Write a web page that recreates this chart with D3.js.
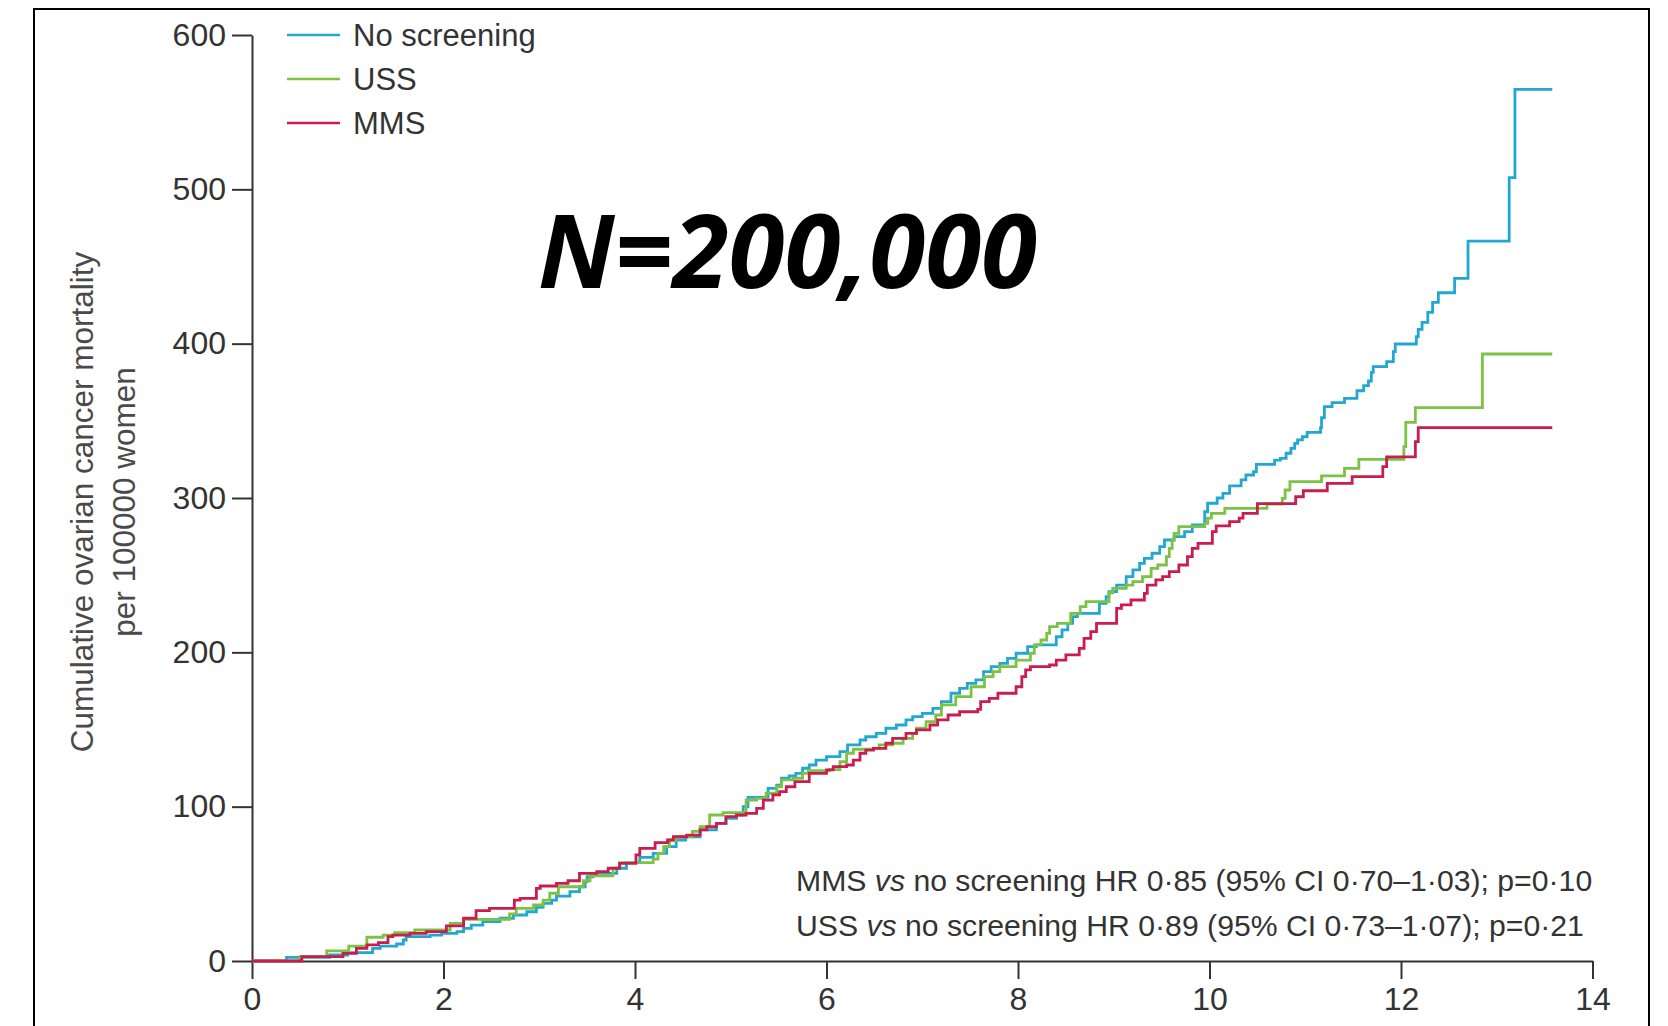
<!DOCTYPE html>
<html>
<head>
<meta charset="utf-8">
<script src="https://cdn.jsdelivr.net/npm/d3@7/dist/d3.min.js"></script>
<style>
  body { margin: 0; background: #fff; }
  text { font-family: "Liberation Sans", Arial, sans-serif; }
</style>
</head>
<body>
<div id="my_dataviz"></div>
<script>
// years since randomisation, cumulative deaths per 100000 (step points)
var noScreening = [
  [0,0],[0.36,2.4],[0.81,3.9],[1.0,5.4],[1.26,8.2],[1.34,9.7],[1.51,11],[1.58,13.6],[1.61,15.8],
  [1.86,16.8],[1.98,17.9],[2.14,19],[2.21,21.2],[2.29,23.3],[2.41,25.5],[2.59,27.7],[2.73,29.8],
  [2.87,31.9],[2.97,34.8],[3.04,37.4],[3.13,39.5],[3.18,42.1],[3.32,44.9],[3.42,48.1],[3.48,51.4],
  [3.5,54.6],[3.56,56.8],[3.81,60.1],[3.91,63.7],[4.05,67.2],[4.19,69.8],[4.33,74.1],[4.43,78.4],
  [4.53,80.5],[4.68,84.9],[4.85,89.2],[4.95,92.5],[5.06,94.6],[5.13,100],[5.18,106],[5.39,111.9],
  [5.48,114],[5.53,118.4],[5.61,119.9],[5.68,121.6],[5.75,124.9],[5.82,127],[5.89,130.2],[6.0,132.4],
  [6.14,135.6],[6.22,140],[6.35,143.2],[6.41,145.3],[6.52,147.5],[6.62,150.8],[6.73,152.9],
  [6.83,156.2],[6.9,158.3],[7.0,160.5],[7.11,163.7],[7.2,168],[7.3,173.5],[7.39,176.7],[7.47,179.9],
  [7.56,182.1],[7.64,187.5],[7.72,190.7],[7.81,192.9],[7.89,196.1],[7.98,199.4],[8.1,203.7],
  [8.19,204.8],[8.4,210.1],[8.46,214.5],[8.52,218.8],[8.57,223.1],[8.62,225.3],[8.85,231.7],
  [8.92,236],[8.95,239.3],[9.03,243.6],[9.13,249],[9.2,253.4],[9.27,257.7],[9.32,260.9],[9.4,264.2],
  [9.48,268.5],[9.53,272.8],[9.63,275],[9.74,278.2],[9.82,282.5],[9.95,291.1],[9.98,296.6],
  [10.08,300],[10.14,303],[10.21,307.8],[10.33,311.7],[10.38,314.9],[10.46,317],[10.49,321.8],
  [10.68,324.6],[10.74,325.7],[10.8,329],[10.85,332.2],[10.89,335.4],[10.92,337.6],[10.97,339.7],
  [11.02,342.5],[11.16,345.6],[11.17,352],[11.2,359.2],[11.28,361.8],[11.41,364.6],[11.54,369.5],
  [11.61,372.8],[11.66,375.8],[11.69,381.4],[11.71,385.1],[11.85,388.3],[11.92,394.8],[11.94,399.8],
  [12.16,404.5],[12.18,409.3],[12.22,413.8],[12.28,420.3],[12.33,426.8],[12.39,433],[12.56,442.3],
  [12.7,466.5],[13.13,507.6],[13.19,564.8],[13.58,564.8]
];
var uss = [
  [0,0],[0.5,2.8],[0.78,6.5],[1.01,9.7],[1.2,15.4],[1.37,16.8],[1.49,18.4],[1.7,20.1],[2.07,24.4],
  [2.21,27],[2.69,30.5],[2.76,34.1],[2.94,36.3],[3.04,39.5],[3.11,43.9],[3.2,48.1],[3.46,52],
  [3.53,55.1],[3.77,60.1],[3.84,63.7],[4.19,66],[4.24,69.8],[4.3,74.1],[4.36,78.4],[4.43,80.5],
  [4.6,84],[4.68,87],[4.78,94.6],[4.92,96.1],[5.16,104.3],[5.27,105.4],[5.37,108.7],[5.48,112.9],
  [5.53,117.3],[5.65,118.4],[5.75,121.6],[5.81,123.3],[6.03,124],[6.14,129.1],[6.21,134.6],
  [6.28,137.2],[6.49,137.8],[6.55,140],[6.69,141.1],[6.8,144.3],[6.9,147.5],[6.94,150.8],
  [7.04,155.1],[7.14,159.4],[7.2,165.9],[7.35,171.3],[7.51,177.7],[7.65,184.2],[7.74,187.5],
  [7.81,190.7],[7.98,195],[8.13,199.4],[8.17,204.8],[8.24,208],[8.3,212.3],[8.33,216.6],[8.41,218.8],
  [8.55,225.3],[8.65,229.6],[8.71,232.8],[8.95,238.6],[8.99,241.5],[9.13,243.6],[9.2,245.8],
  [9.3,249],[9.39,254.4],[9.46,256.6],[9.55,262],[9.58,267.4],[9.61,272.8],[9.63,277.1],[9.68,281.4],
  [9.95,283.6],[9.98,286.9],[10.02,290.1],[10.16,293.3],[10.6,296.1],[10.76,299.8],[10.79,305.2],
  [10.84,310.6],[11.17,314.3],[11.41,319.2],[11.56,325],[12.03,333.3],[12.05,349],[12.15,358.5],
  [12.85,393.3],[13.58,393.3]
];
var mms = [
  [0,0],[0.52,2.8],[0.95,5],[1.09,8.2],[1.2,10.4],[1.32,11.9],[1.42,15.8],[1.47,16.8],[1.65,17.9],
  [1.82,19],[2.03,22.7],[2.21,27.7],[2.34,32.6],[2.48,34.1],[2.74,39.5],[2.8,40.6],[2.97,47.1],
  [3.01,48.6],[3.18,50.3],[3.3,52],[3.42,56.8],[3.6,57.9],[3.72,60.1],[3.84,63.3],[4.01,68.7],
  [4.05,73],[4.21,76.7],[4.34,78.4],[4.4,80.5],[4.54,81.6],[4.68,84.9],[4.75,87],[4.85,89.2],
  [4.95,93.5],[5.06,94.6],[5.16,95.7],[5.27,98.9],[5.34,104.3],[5.44,107.6],[5.51,109.7],
  [5.58,112.9],[5.67,116.2],[5.82,121.6],[6.0,123.8],[6.07,125.9],[6.21,127],[6.28,130.2],
  [6.35,134.6],[6.41,136.7],[6.49,137.8],[6.62,141.1],[6.69,144.3],[6.83,147.5],[6.94,149.7],
  [7.08,152.9],[7.16,156.2],[7.27,159.4],[7.39,161.5],[7.58,163],[7.61,168],[7.7,170.2],[7.79,173.5],
  [7.98,177.7],[8.04,184.2],[8.08,188.6],[8.13,190.7],[8.33,191.8],[8.4,195],[8.5,198.3],[8.64,202.6],
  [8.69,209.1],[8.76,213.4],[8.82,218.8],[9.03,228.5],[9.08,230.7],[9.18,233.9],[9.32,238.2],
  [9.35,243.6],[9.44,246.9],[9.51,249],[9.58,252.3],[9.68,256.6],[9.77,262],[9.82,267.4],[9.88,270.6],
  [10.03,278.2],[10.07,281.9],[10.21,284.7],[10.31,286.9],[10.35,290.1],[10.5,296.3],[10.9,300.8],
  [10.98,304.7],[11.23,309.5],[11.49,313.8],[11.81,320.3],[11.85,326.6],[12.15,336.5],[12.18,345.6],
  [13.58,345.6]
];

var seriesNames = ["No screening", "USS", "MMS"];
var xTicks = [0, 2, 4, 6, 8, 10, 12, 14];
var yTicks = [0, 100, 200, 300, 400, 500, 600];
var hrLines = [
  ["MMS ", "vs", " no screening HR 0\u00b785 (95% CI 0\u00b770\u20131\u00b703); p=0\u00b710"],
  ["USS ", "vs", " no screening HR 0\u00b789 (95% CI 0\u00b773\u20131\u00b707); p=0\u00b721"]
];

var colors = ["#22a8d0", "#7cc243", "#c91d4e"];

var W = 1668, H = 1026;
var margin = { top: 35, right: 75.5, bottom: 65, left: 252 },
    width = W - margin.left - margin.right,
    height = H - margin.top - margin.bottom;

var svg0 = d3.select("#my_dataviz")
    .append("svg")
    .attr("width", W)
    .attr("height", H);

// outer frame
svg0.append("rect")
    .attr("x", 34).attr("y", 9)
    .attr("width", 1615).attr("height", 1040)
    .attr("fill", "none")
    .attr("stroke", "#000")
    .attr("stroke-width", 2);

var svg = svg0.append("g")
    .attr("transform", "translate(" + margin.left + "," + margin.top + ")");

var x = d3.scaleLinear().domain([0, 14]).range([0, width]);
var y = d3.scaleLinear().domain([0, 600]).range([height, 0]);

// X axis
var gx = svg.append("g")
    .attr("transform", "translate(0," + height + ")")
    .call(d3.axisBottom(x).tickValues(xTicks).tickSize(18).tickSizeOuter(0).tickPadding(8));

// Y axis
var gy = svg.append("g")
    .call(d3.axisLeft(y).tickValues(yTicks).tickSize(20).tickSizeOuter(0).tickPadding(6));

[gx, gy].forEach(function (g) {
  g.select(".domain").attr("stroke", "#333").attr("stroke-width", 2);
  g.selectAll(".tick line").attr("stroke", "#333").attr("stroke-width", 2);
  g.selectAll(".tick text")
    .attr("fill", "#333")
    .style("font-family", '"Liberation Sans", Arial, sans-serif')
    .style("font-size", "32px");
});

// y axis title
var ty = svg0.append("text")
    .attr("transform", "translate(93,502) rotate(-90)")
    .attr("text-anchor", "middle")
    .attr("fill", "#4a4a4a")
    .style("font-size", "31.5px");
ty.append("tspan").attr("x", 0).attr("y", 0).text("Cumulative ovarian cancer mortality");
ty.append("tspan").attr("x", 0).attr("y", 42).text("per 100000 women");

// curves
var line = d3.line()
    .curve(d3.curveStepAfter)
    .x(function (d) { return x(d[0]); })
    .y(function (d) { return y(d[1]); });

[noScreening, uss, mms].forEach(function (s, i) {
  svg.append("path")
      .datum(s)
      .attr("fill", "none")
      .attr("stroke", colors[i])
      .attr("stroke-width", 2.8)
      .attr("d", line);
});

// legend
var legend = svg0.append("g");
seriesNames.forEach(function (name, i) {
  var ly = 35 + i * 44;
  legend.append("line")
      .attr("x1", 287).attr("x2", 340)
      .attr("y1", ly).attr("y2", ly)
      .attr("stroke", colors[i])
      .attr("stroke-width", 2.6);
  legend.append("text")
      .attr("x", 353).attr("y", ly + 11)
      .attr("fill", "#333")
      .style("font-size", "31px")
      .text(name);
});

// big annotation
svg0.append("text")
    .attr("x", 538).attr("y", 288)
    .attr("fill", "#000")
    .style("font-family", '"Open Sans", sans-serif')
    .style("font-weight", "bold")
    .style("font-style", "italic")
    .style("font-size", "101.5px")
    .text("N=200,000");

// hazard ratios
hrLines.forEach(function (parts, i) {
  var t = svg0.append("text")
      .attr("x", 796).attr("y", 891 + i * 45)
      .attr("fill", "#333")
      .style("font-size", "30.2px");
  t.append("tspan").text(parts[0]);
  t.append("tspan").style("font-style", "italic").text(parts[1]);
  t.append("tspan").text(parts[2]);
});
</script>
</body>
</html>
